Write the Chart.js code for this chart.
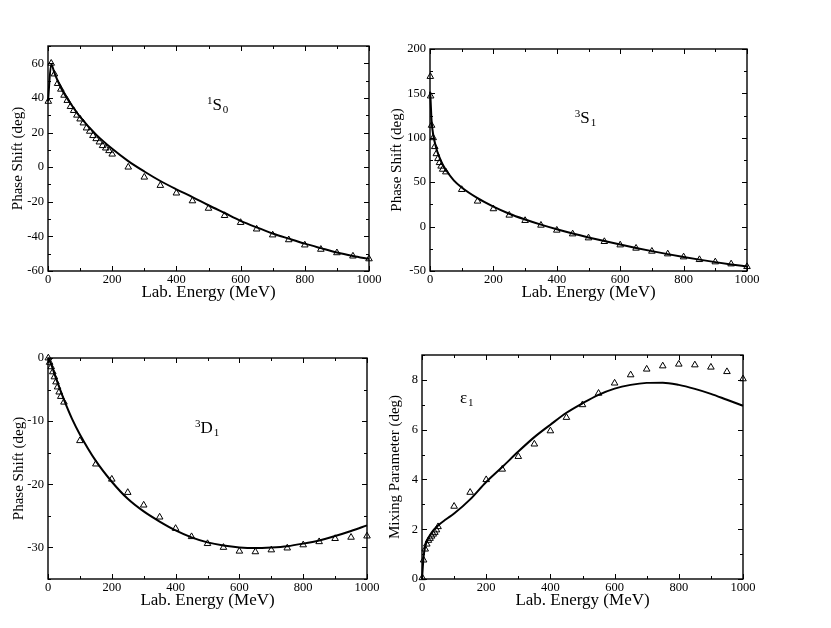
<!DOCTYPE html>
<html>
<head>
<meta charset="utf-8">
<script src="https://cdn.jsdelivr.net/npm/chart.js@4.4.1/dist/chart.umd.min.js"></script>
<style>
  body { margin: 0; background: #fff; width: 831px; height: 628px; position: relative; overflow: hidden; }
  .painel { position: absolute; }
</style>
</head>
<body>
<div class="painel" id="p1"><canvas id="c1"></canvas></div>
<div class="painel" id="p2"><canvas id="c2"></canvas></div>
<div class="painel" id="p3"><canvas id="c3"></canvas></div>
<div class="painel" id="p4"><canvas id="c4"></canvas></div>
<script>
// Eixo de energia (comum aos quatro painéis)
const ticksEnergia = [0, 200, 400, 600, 800, 1000];

// 1S0
const energia1S0Exp = [1, 10, 20, 30, 40, 50, 60, 70, 80, 90, 100, 110, 120, 130, 140, 150, 160, 170, 180, 190, 200,
  250, 300, 350, 400, 450, 500, 550, 600, 650, 700, 750, 800, 850, 900, 950, 1000];
const fase1S0Exp = [38, 60, 53.8, 48.3, 45, 41.5, 38.5, 35, 32.7, 30, 27.8, 25.5, 22.6, 20.7, 18.2, 16.4, 14.5, 12.4, 11, 9.5, 7.5,
  0, -5.8, -10.6, -15, -19.5, -23.8, -28, -32, -35.8, -39.2, -42, -45, -47.5, -49.5, -51.4, -53];
const energia1S0Teo = [0, 10, 20, 30, 40, 50, 75, 100, 150, 200, 250, 300, 350, 400, 450, 500, 550, 600, 650, 700, 750, 800, 850, 900, 950, 1000];
const fase1S0Teo = [38, 59.5, 54.5, 50, 46, 42.5, 35.5, 29, 18.8, 10.6, 3.5, -2.5, -8, -12.8, -17.3, -22, -26.5, -31, -34.8, -38.3, -41.3, -44.2, -46.8, -49.3, -51.3, -53];
const ticks1S0 = [-60, -40, -20, 0, 20, 40, 60];

// 3S1
const energia3S1Exp = [1, 2, 5, 10, 15, 20, 25, 30, 35, 40, 50,
  100, 150, 200, 250, 300, 350, 400, 450, 500, 550, 600, 650, 700, 750, 800, 850, 900, 950, 1000];
const fase3S1Exp = [169, 147, 114, 100, 90, 82, 76.5, 72, 68, 64.5, 61.5,
  41.7, 28.6, 20, 12.8, 6.8, 1.5, -4.1, -8.3, -12.8, -16.9, -20.7, -24.4, -27.8, -30.8, -34.2, -37.2, -39.8, -42.1, -45.1];
const energia3S1Teo = [0, 1, 5, 10, 20, 30, 40, 50, 75, 100, 150, 200, 250, 300, 350, 400, 450, 500, 550, 600, 650, 700, 750, 800, 850, 900, 950, 1000];
const fase3S1Teo = [152, 148, 119, 104, 88, 78, 70, 64, 52, 44, 32, 22.5, 14.5, 8, 2.2, -3, -7.8, -12.2, -16.3, -20.2, -24, -27.6, -31, -34.2, -37.2, -40, -42.6, -45];
const ticks3S1 = [-50, 0, 50, 100, 150, 200];

// 3D1
const energia3D1Exp = [1, 5, 10, 15, 20, 25, 30, 35, 40, 50,
  100, 150, 200, 250, 300, 350, 400, 450, 500, 550, 600, 650, 700, 750, 800, 850, 900, 950, 1000];
const fase3D1Exp = [0, -0.7, -1.4, -2.2, -3, -3.8, -4.6, -5.4, -6.1, -7,
  -13.1, -16.8, -19.2, -21.3, -23.3, -25.2, -27, -28.3, -29.4, -30, -30.6, -30.7, -30.4, -30.1, -29.6, -29.1, -28.6, -28.4, -28.2];
const energia3D1Teo = [0, 10, 25, 50, 75, 100, 150, 200, 250, 300, 350, 400, 450, 500, 550, 600, 650, 700, 750, 800, 850, 900, 950, 1000];
const fase3D1Teo = [0, -1, -3.2, -6.6, -9.6, -12.1, -16.3, -19.6, -22.3, -24.3, -25.9, -27.3, -28.4, -29.2, -29.7, -30, -30.1, -30, -29.8, -29.4, -28.9, -28.2, -27.4, -26.5];
const ticks3D1 = [-30, -20, -10, 0];

// epsilon 1
const energiaEps1Exp = [1, 5, 10, 15, 20, 25, 30, 35, 40, 45, 50,
  100, 150, 200, 250, 300, 350, 400, 450, 500, 550, 600, 650, 700, 750, 800, 850, 900, 950, 1000];
const mistEps1Exp = [0.05, 0.76, 1.2, 1.4, 1.55, 1.63, 1.72, 1.8, 1.87, 1.97, 2.1,
  2.92, 3.48, 3.99, 4.41, 4.92, 5.42, 5.95, 6.49, 7.0, 7.46, 7.87, 8.2, 8.43, 8.56, 8.63, 8.6, 8.51, 8.33, 8.04];
const energiaEps1Teo = [0, 5, 10, 20, 30, 50, 75, 100, 150, 200, 250, 300, 350, 400, 450, 500, 550, 600, 650, 700, 750, 800, 850, 900, 950, 1000];
const mistEps1Teo = [0, 0.9, 1.3, 1.65, 1.87, 2.15, 2.4, 2.63, 3.2, 3.9, 4.5, 5.12, 5.7, 6.2, 6.68, 7.06, 7.4, 7.65, 7.8, 7.88, 7.89, 7.8, 7.64, 7.44, 7.2, 6.96];
const ticksEps1 = [0, 2, 4, 6, 8];

const FONTE = '"Liberation Serif", "Times New Roman", serif';

// moldura com marcas para dentro nos quatro lados
const molduraPlugin = {
  id: 'moldura',
  afterDraw(chart, args, o) {
    const { ctx, chartArea: a, scales: { x, y } } = chart;
    ctx.save();
    ctx.strokeStyle = '#000';
    ctx.lineWidth = 1;
    ctx.beginPath();
    for (let v = x.min; v <= x.max + 1e-9; v += o.xPasso) {
      const len = ticksEnergia.includes(v) ? 5 : 3;
      const px = Math.round(x.getPixelForValue(v)) + 0.5;
      ctx.moveTo(px, a.bottom); ctx.lineTo(px, a.bottom - len);
      ctx.moveTo(px, a.top); ctx.lineTo(px, a.top + len);
    }
    for (let v = y.min; v <= y.max + 1e-9; v += o.yPasso) {
      const len = o.yTicks.includes(v) ? 5 : 3;
      const py = Math.round(y.getPixelForValue(v)) + 0.5;
      ctx.moveTo(a.left, py); ctx.lineTo(a.left + len, py);
      ctx.moveTo(a.right, py); ctx.lineTo(a.right - len, py);
    }
    ctx.stroke();
    ctx.lineWidth = 1.4;
    ctx.strokeRect(a.left, a.top, a.right - a.left, a.bottom - a.top);
    ctx.restore();
  }
};

// rótulo da onda parcial (sobrescrito / subscrito)
const rotuloPlugin = {
  id: 'rotulo',
  afterDatasetsDraw(chart, args, o) {
    const { ctx, scales: { x, y } } = chart;
    let px = x.getPixelForValue(o.x);
    const py = y.getPixelForValue(o.y);
    ctx.save();
    ctx.fillStyle = '#000';
    ctx.textAlign = 'left';
    ctx.textBaseline = 'alphabetic';
    if (o.sup) {
      ctx.font = '11px ' + FONTE;
      ctx.fillText(o.sup, px, py - 6);
      px += ctx.measureText(o.sup).width;
    }
    ctx.font = '17px ' + FONTE;
    ctx.fillText(o.principal, px, py);
    px += ctx.measureText(o.principal).width;
    if (o.sub) {
      ctx.font = '11px ' + FONTE;
      ctx.fillText(o.sub, px + 1, py + 3);
    }
    ctx.restore();
  }
};

function pares(xs, ys) {
  return xs.map((v, i) => ({ x: v, y: ys[i] }));
}

function criarPainel(id, caixa, area, cfg) {
  const div = document.getElementById('p' + id);
  div.style.left = caixa.x + 'px';
  div.style.top = caixa.y + 'px';
  div.style.width = caixa.w + 'px';
  div.style.height = caixa.h + 'px';
  const canvas = document.getElementById('c' + id);
  canvas.width = caixa.w;
  canvas.height = caixa.h;
  canvas.style.width = caixa.w + 'px';
  canvas.style.height = caixa.h + 'px';

  const larguraY = area.l - caixa.x;
  const alturaX = caixa.y + caixa.h - area.b;

  new Chart(canvas.getContext('2d'), {
    type: 'line',
    data: {
      datasets: [
        {
          label: 'teoria',
          data: pares(cfg.teoX, cfg.teoY),
          borderColor: '#000',
          borderWidth: 2,
          pointRadius: 0,
          fill: false,
          cubicInterpolationMode: 'monotone',
          clip: false
        },
        {
          label: 'dados',
          data: pares(cfg.expX, cfg.expY),
          showLine: false,
          pointStyle: 'triangle',
          pointRadius: 3.8,
          pointBorderWidth: 1,
          pointBorderColor: '#000',
          pointBackgroundColor: 'rgba(0,0,0,0)',
          clip: false
        }
      ]
    },
    options: {
      responsive: false,
      animation: false,
      layout: { padding: { left: 0, top: area.t - caixa.y, right: caixa.x + caixa.w - area.r, bottom: 0 } },
      plugins: {
        legend: { display: false },
        tooltip: { enabled: false },
        moldura: { xPasso: 100, yPasso: cfg.yPasso, yTicks: cfg.yTicks },
        rotulo: cfg.rotulo
      },
      scales: {
        x: {
          type: 'linear',
          min: 0, max: 1000,
          afterBuildTicks: s => { s.ticks = ticksEnergia.map(v => ({ value: v })); },
          afterFit: s => { s.height = alturaX; },
          grid: { display: false, drawTicks: false },
          border: { display: false },
          ticks: { color: '#000', font: { family: FONTE, size: 12.5 }, padding: 1, maxRotation: 0, callback: v => String(v) },
          title: {
            display: true, text: 'Lab. Energy (MeV)', color: '#000',
            font: { family: FONTE, size: 17 },
            padding: { top: 0, bottom: alturaX - 22 - 10.2 }
          }
        },
        y: {
          type: 'linear',
          min: cfg.yMin, max: cfg.yMax,
          afterBuildTicks: s => { s.ticks = cfg.yTicks.map(v => ({ value: v })); },
          afterFit: s => { s.width = larguraY; },
          grid: { display: false, drawTicks: false },
          border: { display: false },
          ticks: { color: '#000', font: { family: FONTE, size: 12.5 }, padding: 4, callback: v => String(v) },
          title: {
            display: true, text: cfg.yTitulo, color: '#000',
            font: { family: FONTE, size: 15 },
            padding: { top: area.l - cfg.gapTitulo - caixa.x - 9, bottom: 0 }
          }
        }
      }
    },
    plugins: [molduraPlugin, rotuloPlugin]
  });
}

criarPainel(1, { x: 0, y: 30, w: 390, h: 285 }, { l: 48, t: 46, r: 369, b: 271 }, {
  teoX: energia1S0Teo, teoY: fase1S0Teo, expX: energia1S0Exp, expY: fase1S0Exp,
  yMin: -60, yMax: 70, yTicks: ticks1S0, yPasso: 10, yTitulo: 'Phase Shift (deg)', gapTitulo: 30,
  rotulo: { x: 495, y: 32.9, sup: '1', principal: 'S', sub: '0' }
});

criarPainel(2, { x: 385, y: 30, w: 405, h: 285 }, { l: 430, t: 49, r: 747, b: 271 }, {
  teoX: energia3S1Teo, teoY: fase3S1Teo, expX: energia3S1Exp, expY: fase3S1Exp,
  yMin: -50, yMax: 200, yTicks: ticks3S1, yPasso: 25, yTitulo: 'Phase Shift (deg)', gapTitulo: 33,
  rotulo: { x: 457, y: 117, sup: '3', principal: 'S', sub: '1' }
});

criarPainel(3, { x: 0, y: 330, w: 390, h: 290 }, { l: 48, t: 358, r: 367, b: 579 }, {
  teoX: energia3D1Teo, teoY: fase3D1Teo, expX: energia3D1Exp, expY: fase3D1Exp,
  yMin: -35, yMax: 0, yTicks: ticks3D1, yPasso: 5, yTitulo: 'Phase Shift (deg)', gapTitulo: 29,
  rotulo: { x: 461, y: -11.8, sup: '3', principal: 'D', sub: '1' }
});

criarPainel(4, { x: 385, y: 330, w: 405, h: 290 }, { l: 422, t: 355, r: 743, b: 579 }, {
  teoX: energiaEps1Teo, teoY: mistEps1Teo, expX: energiaEps1Exp, expY: mistEps1Exp,
  yMin: 0, yMax: 9, yTicks: ticksEps1, yPasso: 1, yTitulo: 'Mixing Parameter (deg)', gapTitulo: 27,
  rotulo: { x: 118, y: 7.07, sup: '', principal: 'ε', sub: '1' }
});
</script>
</body>
</html>
